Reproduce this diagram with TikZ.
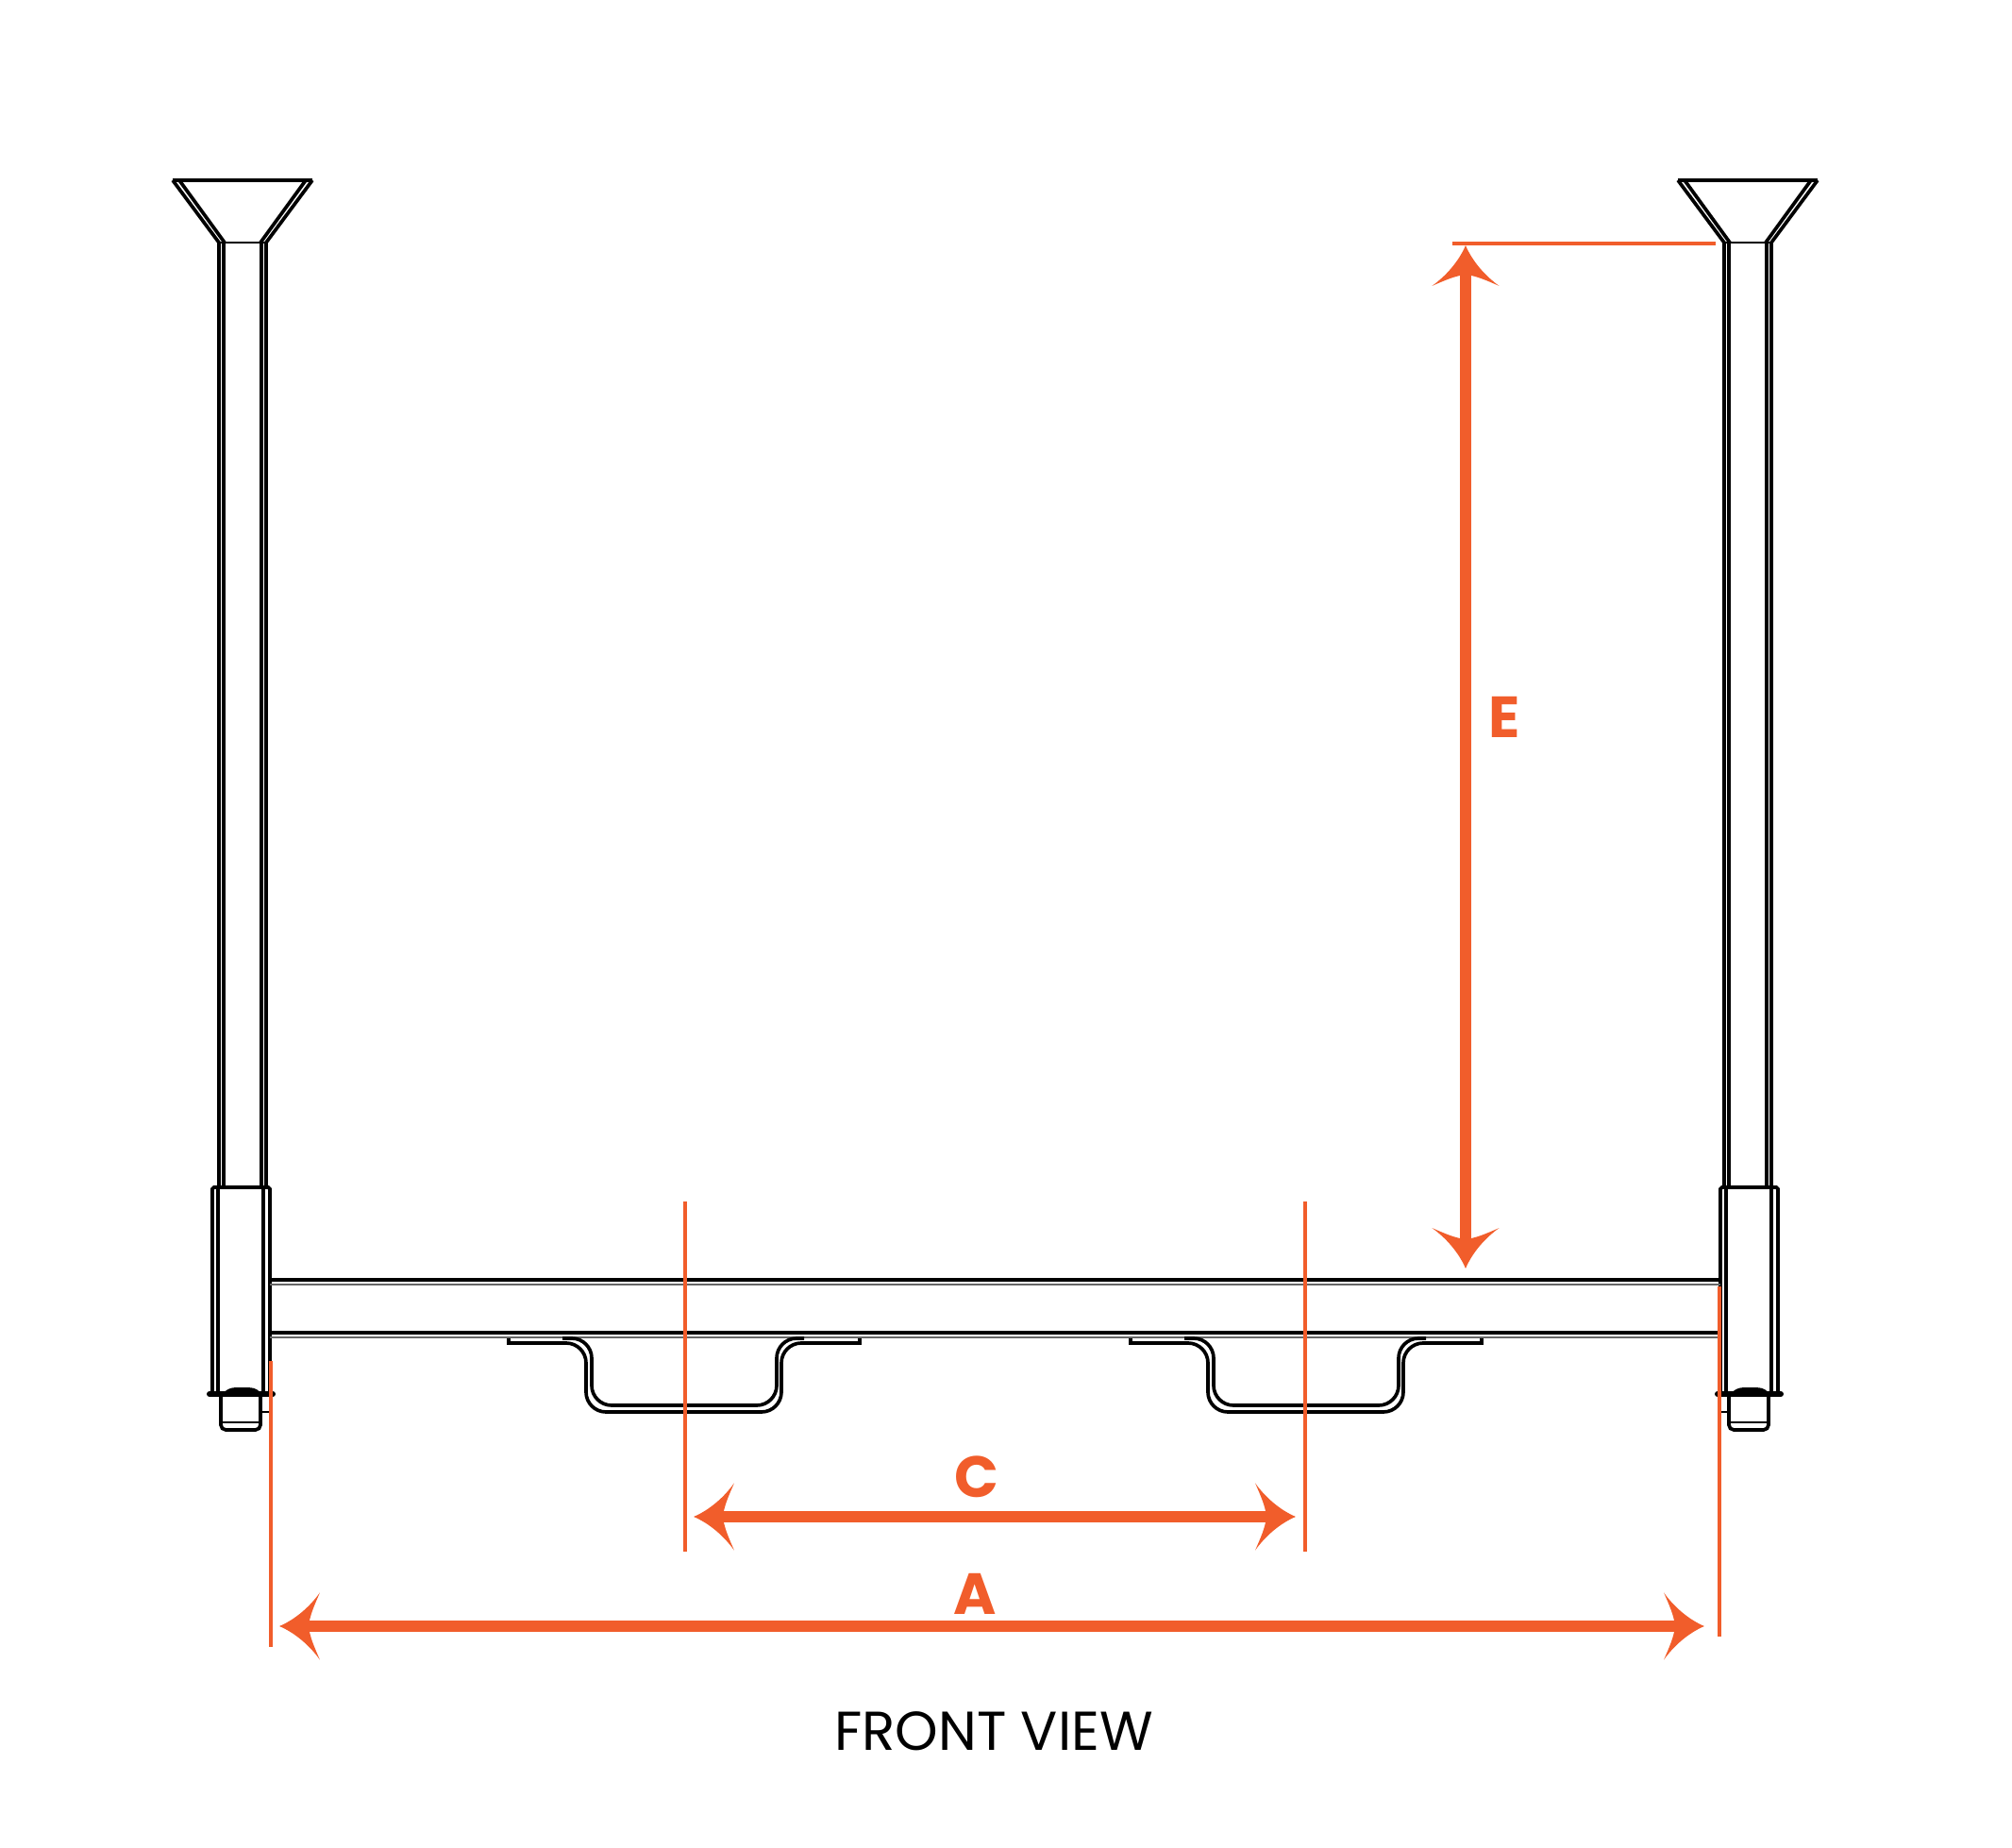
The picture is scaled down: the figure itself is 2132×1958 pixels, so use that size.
\documentclass[tikz,border=0pt]{standalone}
\usepackage{fontspec}
\setmainfont{Poppins}
\usepackage{tikz}

\definecolor{dimorange}{HTML}{F15D2B}

% concave head of the dimension arrows
\pgfdeclarearrow{
	name=sweep,
	setup code={
		\pgfarrowssettipend{0pt}
		\pgfarrowssetbackend{-12.3pt}
		\pgfarrowssetlineend{-8.5pt}
	},
	drawing code={
		\pgfpathmoveto{\pgfqpoint{0pt}{0pt}}
		\pgfpathcurveto{\pgfqpoint{-3.6pt}{1.5pt}}{\pgfqpoint{-8.4pt}{4.8pt}}{\pgfqpoint{-12.2pt}{10.1pt}}
		\pgfpathcurveto{\pgfqpoint{-10.8pt}{6.8pt}}{\pgfqpoint{-9.2pt}{3.5pt}}{\pgfqpoint{-8.8pt}{0pt}}
		\pgfpathcurveto{\pgfqpoint{-9.2pt}{-3.5pt}}{\pgfqpoint{-10.8pt}{-6.8pt}}{\pgfqpoint{-12.2pt}{-10.1pt}}
		\pgfpathcurveto{\pgfqpoint{-8.4pt}{-4.8pt}}{\pgfqpoint{-3.6pt}{-1.5pt}}{\pgfqpoint{0pt}{0pt}}
		\pgfpathclose
		\pgfusepathqfill
	}
}

\tikzset{
	part/.style={black, line width=1.05pt},
	thinpart/.style={black, line width=0.7pt},
	seam/.style={black!60, line width=0.5pt},
	guide/.style={dimorange, line width=1.15pt},
	dimarrow/.style={{sweep}-{sweep}, dimorange, line width=3.3pt},
	dimlabel/.style={dimorange, font=\bfseries\fontsize{17.5}{17.5}\selectfont, inner sep=0pt}
}

\begin{document}
\begin{tikzpicture}[x=0.01cm, y=-0.01cm]
	\useasboundingbox (0,0) rectangle (2132,1958);

	% posts with funnel
	\foreach \dx in {0,1595} {
		\begin{scope}[xshift=\dx*0.01cm]
			\draw[part, line width=1.3pt] (183,191) -- (331,191);
			\draw[part] (183,191) -- (232,257) -- (232,1257);
			\draw[part] (190,191) -- (238,257);
			\draw[part] (331,191) -- (282,257) -- (282,1257);
			\draw[part] (324,191) -- (276,257);
			\draw[part] (237,257) -- (237,1257);
			\draw[part] (277,257) -- (277,1257);
			\draw[thinpart] (232,257) -- (282,257);
		\end{scope}
	}

	% collars and bolts
	\foreach \dx in {0,1598} {
		\begin{scope}[xshift=\dx*0.01cm]
			\draw[part, rounded corners=0.5pt] (225,1478) -- (225,1258) -- (286,1258) -- (286,1478);
			\draw[part] (231,1258) -- (231,1478);
			\draw[part] (279,1258) -- (279,1478);
			\draw[black, line width=1.7pt, line cap=round] (222,1477) -- (289,1477);
			\draw[part] (239,1476) .. controls (244,1472) and (247,1472) .. (252,1472) -- (261,1472) .. controls (266,1472) and (270,1472) .. (274,1476);
			\draw[part, rounded corners=1.5pt] (234,1478) -- (234,1515) -- (276,1515) -- (276,1478);
			\draw[thinpart] (235,1507) -- (275,1507);
			\fill[black] (239,1476) rectangle (274,1480);
		\end{scope}
	}
	\draw[thinpart] (276,1496) -- (286,1496);
	\draw[thinpart] (1822,1496) -- (1832,1496);

	% beam
	\draw[part] (286,1356) -- (1823,1356);
	\draw[part] (286,1412) -- (1823,1412);
	\draw[seam] (286,1361) -- (1823,1361);
	\draw[seam] (286,1417) -- (1823,1417);

	% brackets under the beam
	\foreach \dx in {0,659} {
		\begin{scope}[xshift=\dx*0.01cm]
			\draw[part] (539,1418) -- (539,1423) -- (590,1423);
			\draw[part] (860,1423) -- (911,1423) -- (911,1418);
			\draw[part, rounded corners=6pt] (585,1423) -- (621,1423) -- (621,1496) -- (828,1496) -- (828,1423) -- (865,1423);
			\draw[part, rounded corners=6pt] (596,1418) -- (627,1418) -- (627,1489) -- (823,1489) -- (823,1418) -- (852,1418);
		\end{scope}
	}

	% guide lines
	\coordinate (G1a) at (287,1442);
	\coordinate (G1b) at (287,1745);
	\coordinate (G2a) at (1822,1363);
	\coordinate (G2b) at (1822,1734);
	\coordinate (G3a) at (726,1273);
	\coordinate (G3b) at (726,1644);
	\coordinate (G4a) at (1383,1273);
	\coordinate (G4b) at (1383,1644);
	\coordinate (G5a) at (1539,258);
	\coordinate (G5b) at (1818,258);
	\foreach \n in {1,...,5} {
		\draw[guide] (G\n a) -- (G\n b);
	}

	% dimensions
	\coordinate (Aleft) at (296,1723);
	\coordinate (Aright) at (1806,1723);
	\coordinate (Cleft) at (735,1607);
	\coordinate (Cright) at (1373,1607);
	\coordinate (Etop) at (1553,260);
	\coordinate (Ebottom) at (1553,1344);
	\draw[dimarrow] (Aleft) -- (Aright);
	\draw[dimarrow] (Cleft) -- (Cright);
	\draw[dimarrow] (Etop) -- (Ebottom);

	\node[dimlabel] (labelA) at (1033,1689) {A};
	\node[dimlabel] (labelC) at (1035,1565) {C};
	\node[dimlabel] (labelE) at (1594,760) {E};
	\node[inner sep=0pt, font=\fontsize{16.5}{16.5}\selectfont] (title) at (1053,1834) {FRONT VIEW};
\end{tikzpicture}
\end{document}
